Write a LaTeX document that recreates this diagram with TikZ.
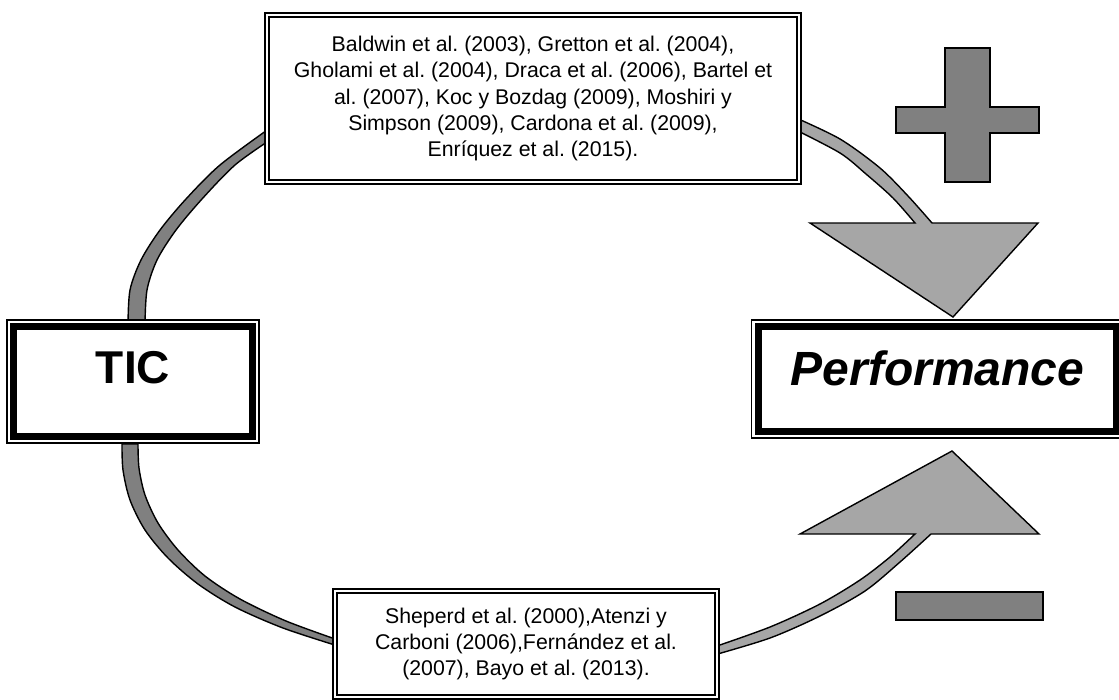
\documentclass[tikz,border=0pt]{standalone}
\usepackage{fontspec}
\setmainfont{Liberation Sans}
\frenchspacing
\definecolor{darkband}{HTML}{808080}
\definecolor{lightband}{HTML}{A6A6A6}
\tikzset{
  band/.style={draw=black, line width=1.4pt},
  darkfill/.style={band, fill=darkband},
  lightfill/.style={band, fill=lightband},
  citebox/.style={draw=black, fill=white, line width=2pt, inner sep=0pt,
    align=center, font=\fontsize{21.3}{26.3}\selectfont},
  conceptbox/.style={draw=black, fill=white, line width=1.5pt, inner sep=0pt},
  innerthin/.style={draw=black, line width=2pt},
  innerthick/.style={draw=black, line width=7pt},
}
\begin{document}
\begin{tikzpicture}[x=1pt,y=-1pt]
\useasboundingbox (0,0) rectangle (1119,699);
\clip (0,0) rectangle (1119,699);

% curved band: TIC up to the upper reference box
\draw[darkfill] plot[smooth] coordinates {(128,324)(130,290)(141,260)(160,230)(186,199)(220,165)(270,128)}
  -- plot[smooth] coordinates {(270,140)(235,165)(202,199)(176,230)(157,260)(147,290)(145,324)} -- cycle;

% curved band: TIC down to the lower reference box
\draw[darkfill] plot[smooth] coordinates {(122,444)(123,470)(130,500)(145,530)(168,558)(198,584)(235,607)(283,628)(338,646)}
  -- plot[smooth] coordinates {(338,640)(286,621)(240,599)(205,576)(178,550)(158,523)(145,495)(139,468)(138,444)} -- cycle;

% curved arrow: upper box down to Performance (positive effect)
\draw[lightfill] plot[smooth] coordinates {(794,117)(840,139)(880,168)(908,196)(932,223)}
  -- (1038,223) -- (953,317) -- (810,223) -- (915,223)
  -- plot[smooth] coordinates {(915,223)(893,198)(866,174)(840,153)(794,129)} -- cycle;

% curved arrow: lower box up to Performance (negative effect)
\draw[lightfill] plot[smooth] coordinates {(714,655)(770,638)(820,616)(865,591)(900,562)(931,534)}
  -- (1039,534) -- (952,451) -- (800,534) -- (915,534)
  -- plot[smooth] coordinates {(915,534)(890,557)(860,580)(820,604)(770,627)(714,647)} -- cycle;

% plus and minus signs
\draw[darkfill] (945,48) -- (990,48) -- (990,107) -- (1039,107) -- (1039,133) -- (990,133)
  -- (990,182) -- (945,182) -- (945,133) -- (896,133) -- (896,107) -- (945,107) -- cycle;
\draw[darkfill] (896,592) rectangle (1043,620);

% reference boxes with double thin frames
\node[citebox, minimum width=536pt, minimum height=171pt] (refsup) at (533,98.5)
  {Baldwin et al. (2003), Gretton et al. (2004),\\
   Gholami et al. (2004), Draca et al. (2006), Bartel et\\
   al. (2007), Koc y Bozdag (2009), Moshiri y\\
   Simpson (2009), Cardona et al. (2009),\\
   Enríquez et al. (2015).};
\draw[innerthin] ([shift={(5,5)}]refsup.north west) rectangle ([shift={(-5,-5)}]refsup.south east);

\node[citebox, minimum width=386pt, minimum height=110pt] (refinf) at (526,644)
  {Sheperd et al. (2000),Atenzi y\\
   Carboni (2006),Fernández et al.\\
   (2007), Bayo et al. (2013).};
\draw[innerthin] ([shift={(5,5)}]refinf.north west) rectangle ([shift={(-5,-5)}]refinf.south east);

% concept boxes with thin-thick frames
\node[conceptbox, minimum width=252pt, text height=63pt, text depth=60pt,
  font=\fontsize{46}{50}\selectfont\bfseries] (tic) at (133,381.5) {TIC};
\draw[innerthick] ([shift={(7.5,7.5)}]tic.north west) rectangle ([shift={(-7.5,-7.5)}]tic.south east);

\node[conceptbox, minimum width=372pt, text height=65pt, text depth=53pt,
  font=\fontsize{48}{52}\selectfont\bfseries\itshape] (perf) at (937.5,379) {Performance};
\draw[innerthick] ([shift={(7.5,7.5)}]perf.north west) rectangle ([shift={(-7.5,-7.5)}]perf.south east);
\end{tikzpicture}
\end{document}
